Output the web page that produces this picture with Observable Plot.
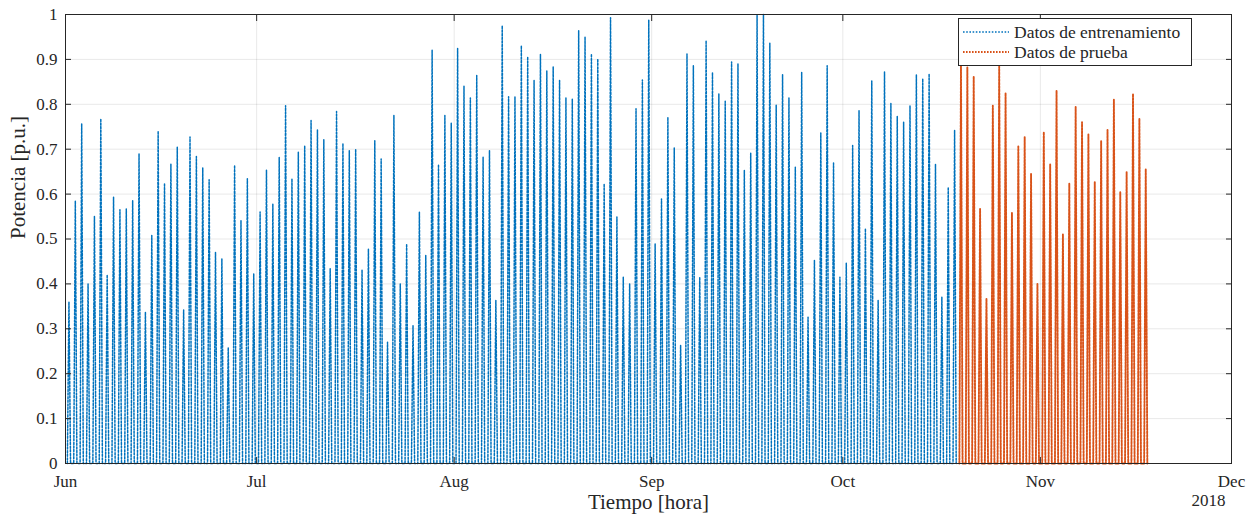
<!DOCTYPE html>
<html><head><meta charset="utf-8">
<script src="https://cdn.jsdelivr.net/npm/d3@7"></script>
<script src="https://cdn.jsdelivr.net/npm/@observablehq/plot@0.6"></script>
<style>
body{margin:0;background:#fff}
#wrap{position:relative;width:1257px;height:518px;font-family:"Liberation Serif",serif;color:#262626}
#legend{position:absolute;left:958px;top:18px;width:232px;height:46px;border:1px solid #262626;background:#fff;font-size:17.5px}
#legend .row{position:absolute;left:4px;height:20px;display:flex;align-items:center}
#legend svg{margin-right:5px}
</style>
</head><body>
<div id="wrap"><div id="legend"></div></div>
<script>
// ---- data: daily peak power [p.u.] ----
const trainStart = "2018-06-01";
const trainJun = [0.36,0.585,0.757,0.40,0.55,0.768,0.42,0.593,0.565,0.567,0.585,0.69,0.337,0.508,0.74,0.624,0.667,0.705,0.342,0.727,0.684,0.658,0.632,0.47,0.456,0.258,0.664,0.541,0.634,0.422];
const trainJul = [0.56,0.653,0.578,0.682,0.797,0.634,0.693,0.708,0.764,0.743,0.721,0.434,0.784,0.713,0.697,0.70,0.431,0.478,0.719,0.678,0.27,0.775,0.40,0.489,0.307,0.56,0.463,0.921,0.666,0.775,0.758];
const trainAug = [0.924,0.84,0.814,0.864,0.682,0.697,0.363,0.975,0.817,0.817,0.931,0.906,0.853,0.911,0.874,0.884,0.853,0.814,0.812,0.964,0.95,0.912,0.901,0.623,0.993,0.549,0.415,0.40,0.79,0.854,0.988];
const trainSep = [0.489,0.589,0.771,0.703,0.263,0.912,0.886,0.415,0.942,0.871,0.823,0.807,0.894,0.89,0.653,0.691,0.998,1.0,0.936,0.798,0.866,0.814,0.66,0.871,0.326,0.452,0.736,0.886,0.669,0.415];
const trainOct = [0.446,0.708,0.786,0.523,0.852,0.363,0.872,0.802,0.773,0.76,0.797,0.866,0.857,0.868,0.666,0.37,0.615,0.742];
const testStart = "2018-10-19";
const testOct = [0.89,0.882,0.862,0.567,0.367,0.797,0.884,0.825,0.558,0.706,0.727,0.645,0.40];
const testNov = [0.738,0.666,0.83,0.51,0.623,0.794,0.76,0.733,0.627,0.718,0.743,0.81,0.604,0.649,0.823,0.768,0.656];
// night = zero output; sunrise / solar noon / sunset hours
const riseHour = 7, peakHour = 13, setHour = 19;

const yTicks = [0,0.1,0.2,0.3,0.4,0.5,0.6,0.7,0.8,0.9,1];
const xTicks = ["2018-06-01","2018-07-01","2018-08-01","2018-09-01","2018-10-01","2018-11-01","2018-12-01"];
const monthLabels = ["Jun","Jul","Aug","Sep","Oct","Nov","Dec"];
const seriesNames = ["Datos de entrenamiento","Datos de prueba"];
const yLabel = "Potencia [p.u.]", xLabel = "Tiempo [hora]", yearLabel = "2018";

const blue = "#0072BD", orange = "#D95319";
const H = 3600e3, DAY = 24*H;
function spikes(start, peaks){
  const t0 = Date.parse(start + "T00:00:00Z");
  return peaks.flatMap((p,i) => [
    {t:new Date(t0+i*DAY+riseHour*H), v:0},
    {t:new Date(t0+i*DAY+peakHour*H), v:p},
    {t:new Date(t0+i*DAY+setHour*H), v:0}
  ]);
}
const train = spikes(trainStart, [...trainJun,...trainJul,...trainAug,...trainSep,...trainOct]);
const test = spikes(testStart, [...testOct,...testNov]);
const xTickDates = xTicks.map(s => new Date(s + "T00:00:00Z"));

const chart = Plot.plot({
  width:1257, height:518,
  marginLeft:65, marginRight:26, marginTop:14, marginBottom:55,
  style:{fontFamily:"Liberation Serif, serif", fontSize:"17px", color:"#262626", background:"#fff"},
  x:{type:"utc", domain:[xTickDates[0], xTickDates[xTickDates.length-1]]},
  y:{domain:[0,1]},
  marks:[
    Plot.gridY(yTicks, {stroke:"#000", strokeOpacity:0.09}),
    Plot.gridX(xTickDates, {stroke:"#000", strokeOpacity:0.09}),
    Plot.line(train, {x:"t", y:"v", stroke:blue, strokeWidth:1.5, strokeDasharray:"2,1.6"}),
    Plot.line(test, {x:"t", y:"v", stroke:orange, strokeWidth:1.9, strokeDasharray:"2,1.4"}),
    Plot.frame({stroke:"#262626", strokeWidth:1}),
    Plot.axisY(yTicks, {anchor:"left", tickSize:-6, tickPadding:14, tickFormat:d=>String(d), label:null, stroke:"#262626"}),
    Plot.axisY(yTicks, {anchor:"right", tickSize:-6, tickFormat:()=>"", label:null, stroke:"#262626"}),
    Plot.axisX(xTickDates, {anchor:"bottom", tickSize:-6, tickPadding:17, tickFormat:d=>monthLabels[xTickDates.findIndex(e=>+e===+d)], label:null, stroke:"#262626"}),
    Plot.axisX(xTickDates, {anchor:"top", tickSize:-6, tickFormat:()=>"", label:null, stroke:"#262626"}),
    Plot.text([yLabel], {text:d=>d, frameAnchor:"left", rotate:-90, dx:-47, fontSize:21, fill:"#262626"}),
    Plot.text([xLabel], {text:d=>d, frameAnchor:"bottom", dy:45, fontSize:21, fill:"#262626"}),
    Plot.text([yearLabel], {text:d=>d, frameAnchor:"bottom-right", dy:42, dx:-6, fontSize:17, fill:"#262626"})
  ]
});
document.getElementById("wrap").prepend(chart);

// legend
const leg = document.getElementById("legend");
[[seriesNames[0], blue, "1.6,1.6", 1.4, 3],[seriesNames[1], orange, "1.6,1.4", 1.8, 23]].forEach(([name,col,dash,w,top])=>{
  const row = document.createElement("div");
  row.className = "row"; row.style.top = top + "px";
  row.innerHTML = `<svg width="46" height="6"><line x1="0" y1="3" x2="46" y2="3" stroke="${col}" stroke-width="${w}" stroke-dasharray="${dash}"/></svg><span>${name}</span>`;
  leg.appendChild(row);
});
</script>
</body></html>
